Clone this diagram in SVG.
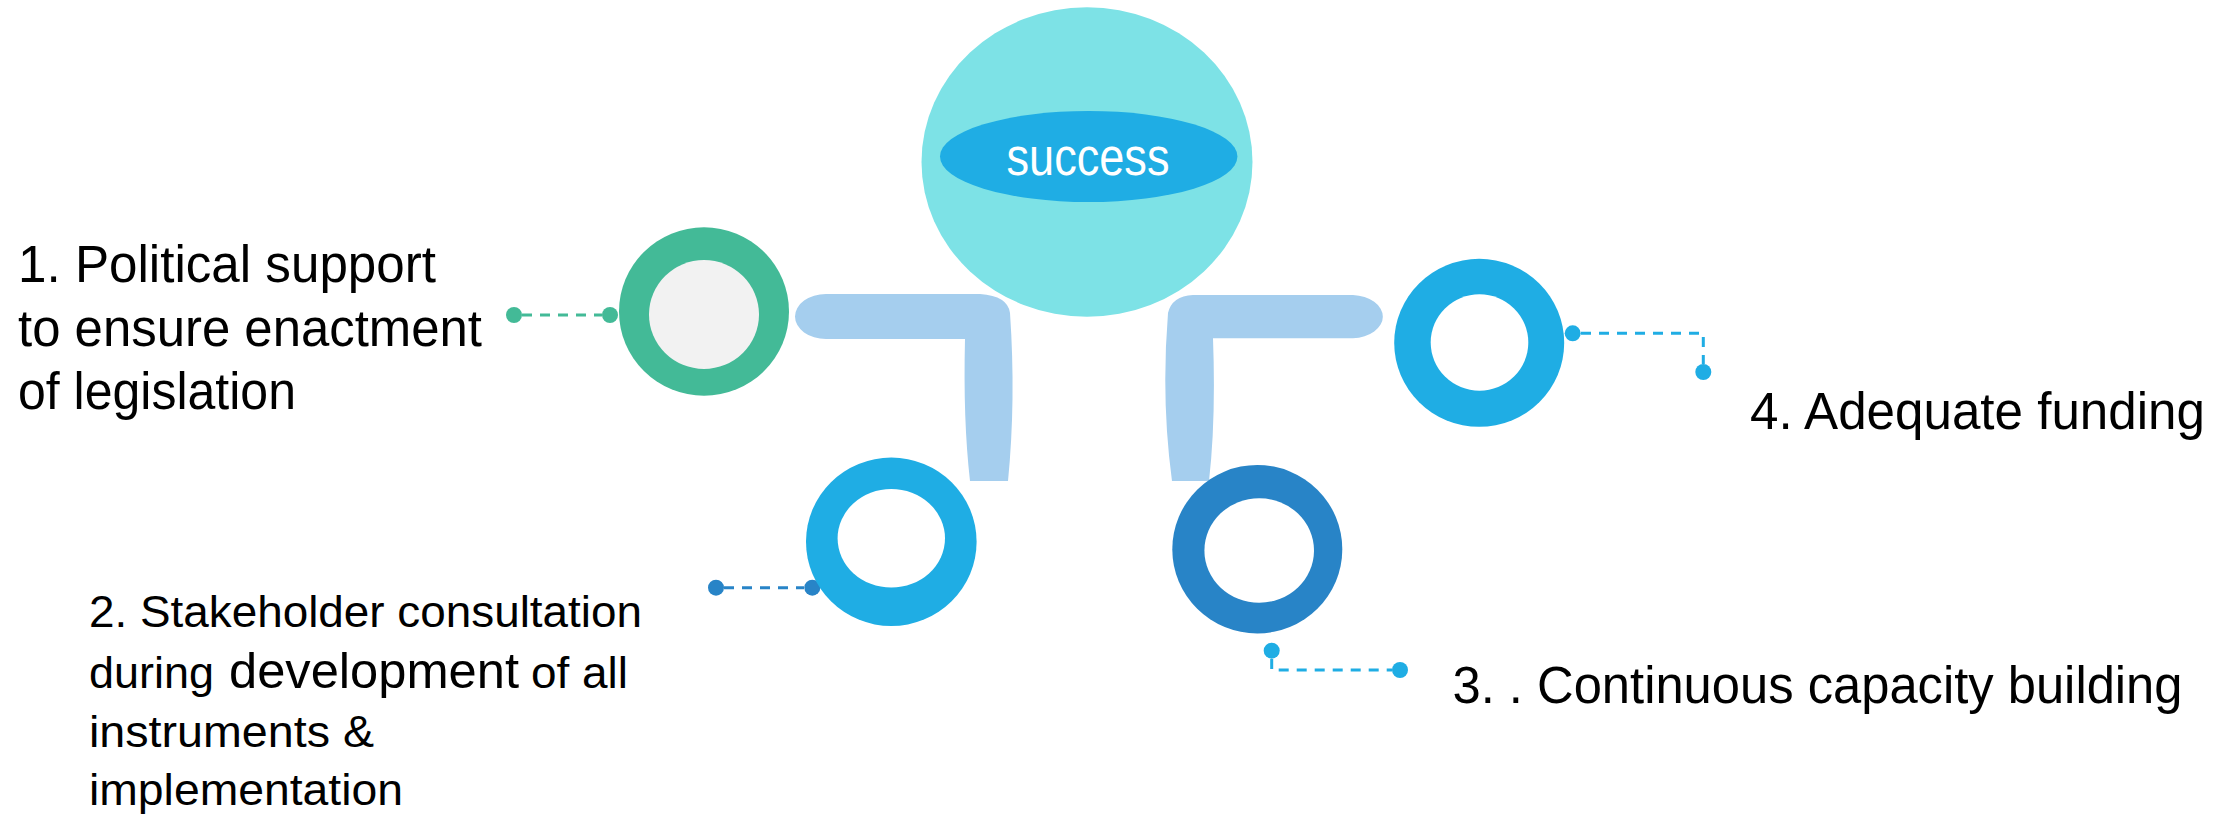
<svg xmlns="http://www.w3.org/2000/svg" width="2228" height="814" viewBox="0 0 2228 814">
<style>
.lbl{font-family:"Liberation Sans",Arial,sans-serif;fill:#000000;}
.pipe{fill:#A5CEEE;}
.dash{fill:none;stroke-width:3;stroke-dasharray:10 8;}
.green{stroke:#43BA97;}
.cyan{stroke:#1FADE4;}
.dblue{stroke:#2884C7;}
</style>
<rect x="0" y="0" width="2228" height="814" fill="#FFFFFF"/>
<g id="pipes">
<path class="pipe" d="M826 294 L980 294 Q1008 296 1010 313 Q1016 400 1008 481 L970 481 Q963 420 965 339 L826 339 A31 22.5 0 0 1 826 294 Z"/>
<path class="pipe" d="M1353 295 A32 21.7 0 0 1 1353 338.3 L1213 338.3 Q1216 420 1209 481 L1172 481 Q1161 400 1168 313 Q1172 296 1193 295 Z"/>
</g>
<g id="success">
<ellipse cx="1087" cy="162" rx="165.5" ry="154.7" fill="#7DE2E6"/>
<ellipse cx="1088.7" cy="156.5" rx="148.7" ry="45.5" fill="#1FADE4"/>
<text x="1088" y="175" font-family="Liberation Sans, Arial, sans-serif" font-size="51" fill="#FFFFFF" text-anchor="middle" textLength="163" lengthAdjust="spacingAndGlyphs">success</text>
</g>
<g id="connectors">
<line class="dash green" x1="522" y1="315" x2="602" y2="315"/>
<circle cx="514" cy="315" r="8" fill="#43BA97"/>
<circle cx="610" cy="315" r="8" fill="#43BA97"/>
<line class="dash dblue" x1="724" y1="587.7" x2="804" y2="587.7"/>
<circle cx="716" cy="587.7" r="8" fill="#2884C7"/>
<circle cx="812.3" cy="587.7" r="8" fill="#2884C7"/>
<polyline class="dash cyan" points="1271.7,659 1271.7,670 1392,670"/>
<circle cx="1271.7" cy="650.7" r="8" fill="#1FADE4"/>
<circle cx="1400" cy="670" r="8" fill="#1FADE4"/>
<polyline class="dash cyan" points="1581,333.3 1703.3,333.3 1703.3,364"/>
<circle cx="1572.7" cy="333.3" r="8" fill="#1FADE4"/>
<circle cx="1703.3" cy="372" r="8" fill="#1FADE4"/>
</g>
<g id="node1">
<ellipse cx="704" cy="311.5" rx="85" ry="84.2" fill="#43BA97"/>
<ellipse cx="704" cy="314.5" rx="55" ry="54.5" fill="#F2F2F2"/>
<text class="lbl" font-size="51" x="18" y="281.5" textLength="418" lengthAdjust="spacingAndGlyphs">1. Political support</text>
<text class="lbl" font-size="51" x="18" y="345.5" textLength="464" lengthAdjust="spacingAndGlyphs">to ensure enactment</text>
<text class="lbl" font-size="51" x="18" y="409" textLength="278" lengthAdjust="spacingAndGlyphs">of legislation</text>
</g>
<g id="node2">
<ellipse cx="891.3" cy="541.8" rx="85.3" ry="84.2" fill="#1FADE4"/>
<ellipse cx="891.3" cy="538.3" rx="53.7" ry="49.3" fill="#FFFFFF"/>
<text class="lbl" font-size="45" x="89" y="627" textLength="553" lengthAdjust="spacingAndGlyphs">2. Stakeholder consultation</text>
<text class="lbl" font-size="45" x="89" y="688" textLength="125" lengthAdjust="spacingAndGlyphs">during</text>
<text class="lbl" font-size="50" x="229" y="688" textLength="290" lengthAdjust="spacingAndGlyphs">development</text>
<text class="lbl" font-size="45" x="531" y="688" textLength="97" lengthAdjust="spacingAndGlyphs">of all</text>
<text class="lbl" font-size="45" x="89" y="747" textLength="285" lengthAdjust="spacingAndGlyphs">instruments &amp;</text>
<text class="lbl" font-size="45" x="89" y="805" textLength="314" lengthAdjust="spacingAndGlyphs">implementation</text>
</g>
<g id="node3">
<ellipse cx="1257.3" cy="549.2" rx="85" ry="84.2" fill="#2884C7"/>
<ellipse cx="1259.2" cy="550.5" rx="54.8" ry="52.2" fill="#FFFFFF"/>
<text class="lbl" font-size="51" x="1452.5" y="703" textLength="730" lengthAdjust="spacingAndGlyphs">3. . Continuous capacity building</text>
</g>
<g id="node4">
<ellipse cx="1479.2" cy="342.8" rx="85" ry="84" fill="#1FADE4"/>
<ellipse cx="1479.5" cy="342.5" rx="48.8" ry="48.2" fill="#FFFFFF"/>
<text class="lbl" font-size="51" x="1750" y="429" textLength="455" lengthAdjust="spacingAndGlyphs">4. Adequate funding</text>
</g>
</svg>
